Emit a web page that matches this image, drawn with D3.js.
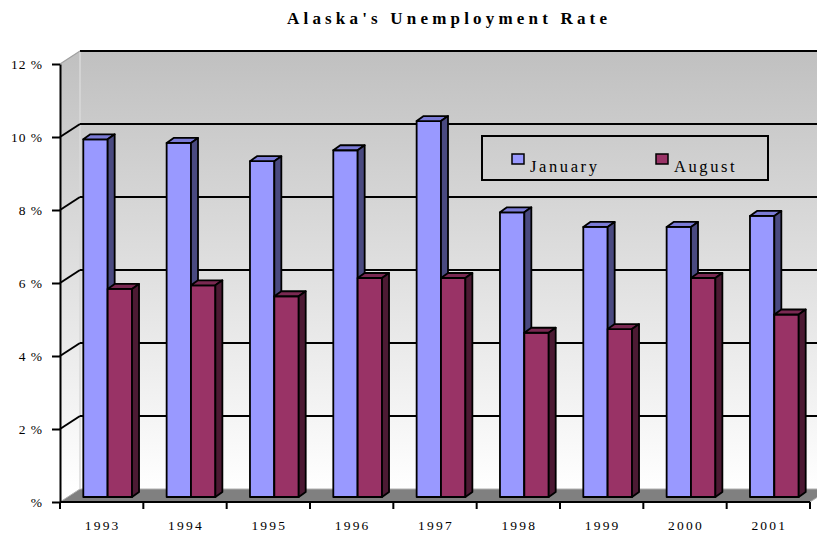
<!DOCTYPE html>
<html>
<head>
<meta charset="utf-8">
<script src="https://cdn.jsdelivr.net/npm/d3@7"></script>
<style>
  body { margin: 0; background: #fff; }
  text { font-family: "Liberation Serif", "Times New Roman", serif; fill: #000; }
</style>
</head>
<body>
<div id="chart"></div>
<script>
// data
var years = ["1993", "1994", "1995", "1996", "1997", "1998", "1999", "2000", "2001"];
var january = [9.8, 9.7, 9.2, 9.5, 10.3, 7.8, 7.4, 7.4, 7.7];
var august = [5.7, 5.8, 5.5, 6.0, 6.0, 4.5, 4.6, 6.0, 5.0];
var seriesNames = ["January", "August"];
var yTicks = [0, 2, 4, 6, 8, 10, 12];

var width = 817, height = 533;
var plot = {left: 60, right: 810, top: 64, bottom: 502};
var wallDepth = {dx: 20, dy: -13};     // front plane -> back wall
var barFront = {dx: 6, dy: -5};        // front plane -> front face of bars
var barDepth = {dx: 7, dy: -5};        // thickness of a bar

var colors = {
  January: {front: "#9999ff", top: "#7b7bd6", side: "#4a4a80"},
  August:  {front: "#993366", top: "#7a2952", side: "#4c1a33"}
};

var svg = d3.select("#chart").append("svg")
    .attr("width", width)
    .attr("height", height);

var x = d3.scaleBand()
    .domain(years)
    .range([plot.left, plot.right]);

var x1 = d3.scaleBand()
    .domain(seriesNames)
    .range([0, x.bandwidth()])
    .paddingOuter(0.71);

var y = d3.scaleLinear()
    .domain([0, 12])
    .range([plot.bottom, plot.top]);

// wall gradient
var defs = svg.append("defs");
var grad = defs.append("linearGradient")
    .attr("id", "wall")
    .attr("gradientUnits", "userSpaceOnUse")
    .attr("x1", 0).attr("x2", 0)
    .attr("y1", y(12) + wallDepth.dy)
    .attr("y2", y(0) + wallDepth.dy);
grad.append("stop").attr("offset", "0%").attr("stop-color", "#c0c0c0");
grad.append("stop").attr("offset", "100%").attr("stop-color", "#ffffff");

function pts(a) { return a.map(function(p) { return p.join(","); }).join(" "); }

// back wall
svg.append("rect")
    .attr("x", plot.left + wallDepth.dx)
    .attr("y", y(12) + wallDepth.dy)
    .attr("width", width)
    .attr("height", y(0) - y(12))
    .style("fill", "url(#wall)");

// side wall
svg.append("polygon")
    .attr("points", pts([
      [plot.left, y(12)],
      [plot.left + wallDepth.dx, y(12) + wallDepth.dy],
      [plot.left + wallDepth.dx, y(0) + wallDepth.dy],
      [plot.left, y(0)]
    ]))
    .style("fill", "url(#wall)");

// floor
svg.append("polygon")
    .attr("points", pts([
      [plot.left, y(0)],
      [plot.left + wallDepth.dx, y(0) + wallDepth.dy],
      [plot.right + wallDepth.dx, y(0) + wallDepth.dy],
      [plot.right, y(0)]
    ]))
    .style("fill", "#808080")
    .style("stroke", "#b0b0b0")
    .style("stroke-width", 1);

// wall corner
svg.append("line")
    .attr("x1", plot.left + wallDepth.dx).attr("x2", plot.left + wallDepth.dx)
    .attr("y1", y(12) + wallDepth.dy).attr("y2", y(0) + wallDepth.dy)
    .style("stroke", "#d8d8d8")
    .style("stroke-width", 1.5);

// gridlines on back and side walls
var grid = svg.append("g").attr("class", "grid");
grid.selectAll(".hline")
    .data(yTicks.filter(function(d) { return d > 0; }))
  .enter().append("line")
    .attr("class", "hline")
    .attr("x1", plot.left + wallDepth.dx)
    .attr("x2", width)
    .attr("y1", function(d) { return y(d) + wallDepth.dy; })
    .attr("y2", function(d) { return y(d) + wallDepth.dy; })
    .style("stroke", "#000")
    .style("stroke-width", 2);

grid.selectAll(".dline")
    .data(yTicks.filter(function(d) { return d > 0; }))
  .enter().append("line")
    .attr("class", "dline")
    .attr("x1", plot.left)
    .attr("x2", plot.left + wallDepth.dx)
    .attr("y1", function(d) { return y(d); })
    .attr("y2", function(d) { return y(d) + wallDepth.dy; })
    .style("stroke", function(d) { return d === 12 ? "#a0a0a0" : "#000"; })
    .style("stroke-width", function(d) { return d === 12 ? 1.2 : 2; });

// bars
var bars = [];
years.forEach(function(yr, i) {
  bars.push({year: yr, key: "January", value: january[i]});
  bars.push({year: yr, key: "August", value: august[i]});
});

var bar = svg.selectAll(".bar")
    .data(bars)
  .enter().append("g")
    .attr("class", "bar")
    .style("stroke", "#000")
    .style("stroke-width", 1.8)
    .style("stroke-linejoin", "round");

function geom(d) {
  var x0 = x(d.year) + x1(d.key) + barFront.dx;
  return {x0: x0, x2: x0 + x1.bandwidth(), top: y(d.value) + barFront.dy, bot: y(0) + barFront.dy};
}

bar.append("rect")
    .attr("x", function(d) { return geom(d).x0; })
    .attr("y", function(d) { return geom(d).top; })
    .attr("width", x1.bandwidth())
    .attr("height", function(d) { var g = geom(d); return g.bot - g.top; })
    .style("fill", function(d) { return colors[d.key].front; });

bar.append("polygon")
    .attr("points", function(d) {
      var g = geom(d);
      return pts([[g.x0, g.top], [g.x0 + barDepth.dx, g.top + barDepth.dy],
                  [g.x2 + barDepth.dx, g.top + barDepth.dy], [g.x2, g.top]]);
    })
    .style("fill", function(d) { return colors[d.key].top; });

bar.append("polygon")
    .attr("points", function(d) {
      var g = geom(d);
      return pts([[g.x2, g.top], [g.x2 + barDepth.dx, g.top + barDepth.dy],
                  [g.x2 + barDepth.dx, g.bot + barDepth.dy], [g.x2, g.bot]]);
    })
    .style("fill", function(d) { return colors[d.key].side; });

// y axis
var yAxis = svg.append("g")
    .attr("class", "axis axis--y")
    .attr("transform", "translate(" + plot.left + ",0)")
    .call(d3.axisLeft(y)
      .tickValues(yTicks)
      .tickSize(8)
      .tickSizeOuter(0)
      .tickPadding(9)
      .tickFormat(function(d) { return d === 0 ? "%" : d + " %"; }));
yAxis.selectAll("path, line").style("stroke", "#000").style("stroke-width", 2);
yAxis.selectAll("text")
    .style("font-family", "'Liberation Serif', 'Times New Roman', serif")
    .style("font-size", "13.5px")
    .style("letter-spacing", "1px");

// x axis
var xAxis = svg.append("g")
    .attr("class", "axis axis--x")
    .attr("transform", "translate(0," + plot.bottom + ")");
xAxis.append("line")
    .attr("x1", plot.left).attr("x2", plot.right)
    .style("stroke", "#000").style("stroke-width", 2);
xAxis.selectAll(".tick")
    .data(years.concat(["end"]))
  .enter().append("line")
    .attr("class", "tick")
    .attr("x1", function(d) { return d === "end" ? plot.right : x(d); })
    .attr("x2", function(d) { return d === "end" ? plot.right : x(d); })
    .attr("y1", 0).attr("y2", 7)
    .style("stroke", "#000").style("stroke-width", 2);
xAxis.selectAll(".label")
    .data(years)
  .enter().append("text")
    .attr("class", "label")
    .attr("x", function(d) { return x(d) + x.bandwidth() / 2 + 1; })
    .attr("y", 28)
    .style("text-anchor", "middle")
    .style("font-size", "13.5px")
    .style("letter-spacing", "2.2px")
    .text(function(d) { return d; });

// legend
var legend = svg.append("g").attr("class", "legend");
legend.append("rect")
    .attr("x", 482).attr("y", 136)
    .attr("width", 286).attr("height", 44)
    .style("fill", "none")
    .style("stroke", "#000")
    .style("stroke-width", 2);

var item = legend.selectAll(".item")
    .data(seriesNames)
  .enter().append("g")
    .attr("class", "item")
    .attr("transform", function(d, i) { return "translate(" + (512 + i * 144) + ",154)"; });
item.append("rect")
    .attr("width", 12).attr("height", 10)
    .style("fill", function(d) { return colors[d].front; })
    .style("stroke", "#000")
    .style("stroke-width", 1.5);
item.append("text")
    .attr("x", 18)
    .attr("y", 18)
    .style("font-size", "16.5px")
    .style("letter-spacing", "2.6px")
    .text(function(d) { return d; });

// title
svg.append("text")
    .attr("x", 287)
    .attr("y", 24)
    .attr("textLength", 320)
    .attr("lengthAdjust", "spacing")
    .style("font-size", "17px")
    .style("font-weight", "bold")
    .text("Alaska's Unemployment Rate");
</script>
</body>
</html>
